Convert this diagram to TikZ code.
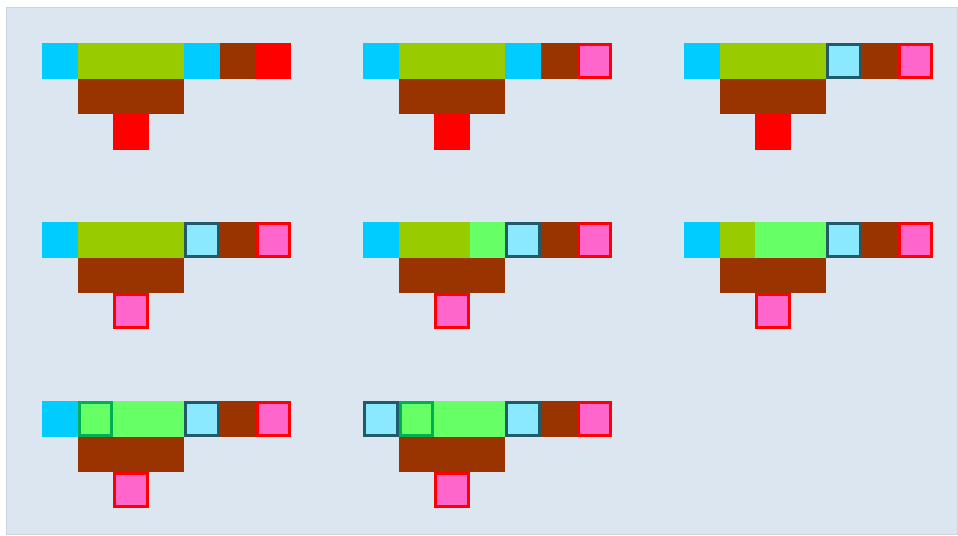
\documentclass[tikz,border=0pt]{standalone}
\usepackage{xcolor}
\usepackage{tikz}
\usetikzlibrary{
    positioning
}

\definecolor{bgblue}{HTML}{DCE6F0}
\definecolor{framegray}{HTML}{CCD5DF}
\definecolor{sky}{HTML}{00CCFF}
\definecolor{olive}{HTML}{99CC00}
\definecolor{lime}{HTML}{66FF66}
\definecolor{rust}{HTML}{993300}
\definecolor{ice}{HTML}{8AE8FF}
\definecolor{slate}{HTML}{215A68}
\definecolor{forest}{HTML}{00B050}
\definecolor{pink}{HTML}{FF66CC}

\begin{document}
\begin{tikzpicture}[
    x=0.025cm,
    y=-0.025cm,
    cell/.style={
        rectangle,
        inner sep=0pt,
        outer sep=0pt,
        minimum size=0.89cm
    },
    ringcell/.style={
        rectangle,
        inner sep=0pt,
        outer sep=0.5\pgflinewidth,
        minimum size=0.815cm,
        line width=0.075cm
    },
    skycell/.style={cell, fill=sky},
    olivecell/.style={cell, fill=olive},
    limecell/.style={cell, fill=lime},
    rustcell/.style={cell, fill=rust},
    redcell/.style={cell, fill=red},
    seencell/.style={ringcell, fill=ice, draw=slate},
    openedcell/.style={ringcell, fill=lime, draw=forest},
    goalcell/.style={ringcell, fill=pink, draw=red}
]

\useasboundingbox (0,0) rectangle (958,535);
\draw[draw=framegray, fill=bgblue] (6.5,7.5) rectangle (957.5,534.5);

% one panel per step: top row, base and tip
\foreach \px/\py/\ca/\cb/\cc/\cd/\ce/\cg/\cl [count=\n] in {
    42/43/skycell/olivecell/olivecell/olivecell/skycell/redcell/redcell,
    363/43/skycell/olivecell/olivecell/olivecell/skycell/goalcell/redcell,
    684/43/skycell/olivecell/olivecell/olivecell/seencell/goalcell/redcell,
    42/222/skycell/olivecell/olivecell/olivecell/seencell/goalcell/goalcell,
    363/222/skycell/olivecell/olivecell/limecell/seencell/goalcell/goalcell,
    684/222/skycell/olivecell/limecell/limecell/seencell/goalcell/goalcell,
    42/401/skycell/openedcell/limecell/limecell/seencell/goalcell/goalcell,
    363/401/seencell/openedcell/limecell/limecell/seencell/goalcell/goalcell}
{
    \node[rustcell, minimum width=2.67cm] (base\n) at (\px+89,\py+53.4) {};
    \node[\cl, below=0pt of base\n] (tip\n) {};
    \node[\ca] (p\n-0) at (\px+17.8,\py+17.8) {};
    \node[\cc, right=0.89cm of p\n-0] (p\n-2) {};
    \node[\cd, right=0pt of p\n-2] (p\n-3) {};
    \node[rustcell, right=0.89cm of p\n-3] (p\n-5) {};
    \node[\cb, right=0pt of p\n-0] (p\n-1) {};
    \node[\ce, right=0pt of p\n-3] (p\n-4) {};
    \node[\cg, right=0pt of p\n-5] (p\n-6) {};
}

\end{tikzpicture}
\end{document}
